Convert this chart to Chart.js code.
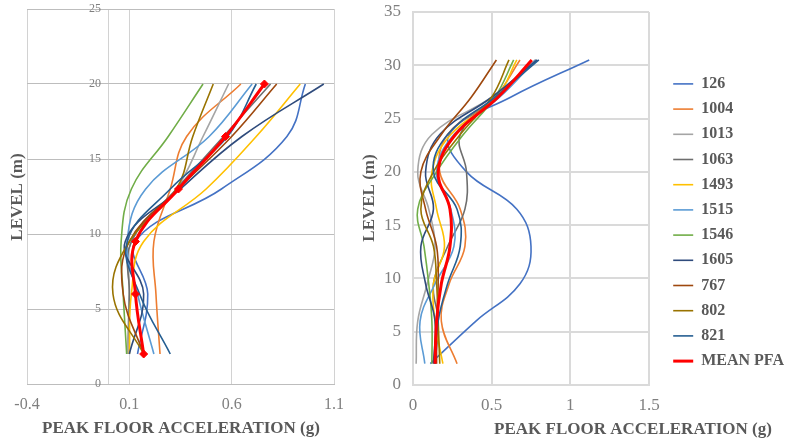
<!DOCTYPE html>
<html>
<head>
<meta charset="utf-8">
<script src="https://cdn.jsdelivr.net/npm/chart.js@4.4.1/dist/chart.umd.min.js"></script>
<style>
  html, body { margin: 0; padding: 0; background: #ffffff; overflow: hidden; width: 787px; height: 443px; }
  #wrap { position: relative; width: 787px; height: 443px; overflow: hidden; }
  canvas { position: absolute; top: 0; }
  #pfa20 { left: 0; }
  #pfa30 { left: 345px; }
</style>
</head>
<body>
<div id="wrap">
  <canvas id="pfa20" width="350" height="443"></canvas>
  <canvas id="pfa30" width="449" height="443"></canvas>
</div>
<script>
// Record names (the last entry is the mean profile)
const seriesNames = ['126', '1004', '1013', '1063', '1493', '1515', '1546', '1605', '767', '802', '821', 'MEAN PFA'];

// Floor levels (m) at which peak floor acceleration was recorded
const levels20 = [2, 6, 9.5, 13, 16.5, 20];
const levels30 = [2, 6, 9.5, 13, 16.5, 20, 23.5, 27, 30.5];

// Peak floor acceleration (g), 20 m building
const pfa20_126  = [0.14, 0.19, 0.13, 0.55, 0.87, 0.96];
const pfa20_1004 = [0.25, 0.23, 0.22, 0.30, 0.38, 0.645];
const pfa20_1013 = [0.09, 0.10, 0.11, 0.33, 0.46, 0.585];
const pfa20_1063 = [0.10, 0.10, 0.11, 0.33, 0.56, 0.79];
const pfa20_1493 = [0.10, 0.11, 0.17, 0.475, 0.72, 0.935];
const pfa20_1515 = [0.22, 0.14, 0.09, 0.18, 0.49, 0.70];
const pfa20_1546 = [0.087, 0.07, 0.06, 0.11, 0.29, 0.46];
const pfa20_1605 = [0.10, 0.17, 0.08, 0.35, 0.65, 1.05];
const pfa20_767  = [0.17, 0.07, 0.10, 0.34, 0.60, 0.82];
const pfa20_802  = [0.17, 0.02, 0.10, 0.33, 0.41, 0.51];
const pfa20_821  = [0.30, 0.15, 0.09, 0.30, 0.58, 0.72];
const pfa20_mean = [0.17, 0.13, 0.13, 0.34, 0.57, 0.76];

// Peak floor acceleration (g), 30 m building
const pfa30_126  = [0.11, 0.40, 0.68, 0.75, 0.66, 0.34, 0.23, 0.62, 1.12];
const pfa30_1004 = [0.28, 0.18, 0.23, 0.33, 0.30, 0.17, 0.22, 0.52, 0.68];
const pfa30_1013 = [0.02, 0.03, 0.09, 0.14, 0.10, 0.03, 0.12, 0.50, 0.78];
const pfa30_1063 = [0.14, 0.16, 0.13, 0.22, 0.33, 0.34, 0.30, 0.52, 0.78];
const pfa30_1493 = [0.19, 0.14, 0.13, 0.20, 0.15, 0.12, 0.24, 0.53, 0.66];
const pfa30_1515 = [0.075, 0.045, 0.14, 0.26, 0.24, 0.15, 0.26, 0.55, 0.78];
const pfa30_1546 = [0.12, 0.12, 0.10, 0.07, 0.03, 0.15, 0.32, 0.52, 0.64];
const pfa30_1605 = [0.13, 0.14, 0.08, 0.05, 0.13, 0.08, 0.17, 0.50, 0.79];
const pfa30_767  = [0.15, 0.15, 0.16, 0.15, 0.08, 0.05, 0.18, 0.37, 0.53];
const pfa30_802  = [0.17, 0.16, 0.15, 0.13, 0.05, 0.13, 0.30, 0.50, 0.61];
const pfa30_821  = [0.14, 0.16, 0.22, 0.30, 0.28, 0.13, 0.22, 0.52, 0.80];
const pfa30_mean = [0.14, 0.15, 0.18, 0.235, 0.235, 0.16, 0.27, 0.54, 0.755];

// Axis ticks and their labels
const xTicks20 = [-0.4, 0, 0.1, 0.6, 1.1];
const xTickLabels20 = ['-0.4', '', '0.1', '0.6', '1.1'];
const yTicks20 = [0, 5, 10, 15, 20, 25];
const xTicks30 = [0, 0.5, 1, 1.5];
const xTickLabels30 = ['0', '0.5', '1', '1.5'];
const yTicks30 = [0, 5, 10, 15, 20, 25, 30, 35];

const pfa20 = [pfa20_126, pfa20_1004, pfa20_1013, pfa20_1063, pfa20_1493, pfa20_1515,
               pfa20_1546, pfa20_1605, pfa20_767, pfa20_802, pfa20_821, pfa20_mean];
const pfa30 = [pfa30_126, pfa30_1004, pfa30_1013, pfa30_1063, pfa30_1493, pfa30_1515,
               pfa30_1546, pfa30_1605, pfa30_767, pfa30_802, pfa30_821, pfa30_mean];

const seriesColors = ['#4472C4', '#ED7D31', '#A5A5A5', '#6E6E6E', '#FFC000', '#5B9BD5',
                      '#70AD47', '#2F4B7C', '#9E480E', '#997300', '#255E91', '#FF0000'];

const serif = 'Liberation Serif';
const tickGrey = '#7f7f7f';
const titleGrey = '#595959';
const MEAN = seriesNames.length - 1;

function buildDatasets(levels, columns, markers) {
  return columns.map((xs, i) => {
    const w = i === MEAN ? 3 : 1.6;
    return {
      label: seriesNames[i],
      data: xs.map((x, k) => ({ x: x, y: levels[k] })),
      showLine: true,
      tension: 0.4,
      fill: false,
      borderColor: seriesColors[i],
      backgroundColor: seriesColors[i],
      borderWidth: w,
      pointStyle: 'rectRot',
      pointRadius: (markers && i === MEAN) ? 4 : 0,
      pointBorderWidth: markers ? 1 : w,
      // later records are painted above earlier ones, mean on top
      order: columns.length - i
    };
  });
}

function fixedTicks(values) {
  return function (scale) { scale.ticks = values.map(v => ({ value: v })); };
}
function labelsFrom(labels) {
  return function (value, index) { return labels[index]; };
}
const fmt = v => String(+(+v).toFixed(2));

// Axis captions painted on top of each chart
const captionPlugin = {
  id: 'captions',
  afterDraw(chart, args, opts) {
    const ctx = chart.ctx;
    (opts.items || []).forEach(it => {
      ctx.save();
      ctx.font = 'bold 17px "' + serif + '"';
      ctx.fillStyle = titleGrey;
      ctx.textAlign = 'center';
      ctx.textBaseline = 'middle';
      ctx.translate(it.x, it.y);
      ctx.rotate(it.rotation || 0);
      ctx.fillText(it.text, 0, 0);
      ctx.restore();
    });
  }
};

const clear = 'rgba(0,0,0,0)';

// ---- 20 m building ----
new Chart(document.getElementById('pfa20'), {
  type: 'scatter',
  data: { datasets: buildDatasets(levels20, pfa20, true) },
  plugins: [captionPlugin],
  options: {
    responsive: false,
    animation: false,
    devicePixelRatio: 1,
    events: [],
    layout: { padding: { left: 27, right: 16, top: 9, bottom: 10 } },
    plugins: {
      legend: { display: false },
      tooltip: { enabled: false },
      captions: {
        items: [
          { text: 'LEVEL (m)', x: 18, y: 197, rotation: -Math.PI / 2 },
          { text: 'PEAK FLOOR ACCELERATION (g)', x: 181, y: 429 }
        ]
      }
    },
    scales: {
      x: {
        type: 'linear', min: -0.4, max: 1.1,
        afterBuildTicks: fixedTicks(xTicks20),
        afterFit: s => { s.height = 49; },
        grid: { color: '#d2d2d2', lineWidth: 1, drawTicks: true, tickLength: 11, tickColor: clear },
        border: { display: true, color: '#bdbdbd', width: 1 },
        ticks: { padding: 0, color: tickGrey, font: { family: serif, size: 16 },
                 callback: labelsFrom(xTickLabels20), maxRotation: 0, autoSkip: false }
      },
      y: {
        type: 'linear', min: 0, max: 25,
        // labels sit just left of the x = 0 line
        position: { x: -0.038 },
        afterBuildTicks: fixedTicks(yTicks20),
        grid: { color: '#bdbdbd', lineWidth: 1, drawTicks: false },
        border: { display: false },
        ticks: { padding: 0, color: tickGrey, font: { family: serif, size: 12 }, callback: fmt }
      }
    }
  }
});

// ---- 30 m building ----
const RIGHT_W = 449;
const PLOT_RIGHT = 304;
new Chart(document.getElementById('pfa30'), {
  type: 'scatter',
  data: { datasets: buildDatasets(levels30, pfa30, false) },
  plugins: [captionPlugin],
  options: {
    responsive: false,
    animation: false,
    devicePixelRatio: 1,
    events: [],
    layout: { padding: { left: 28, right: 0, top: 12, bottom: 10 } },
    plugins: {
      tooltip: { enabled: false },
      legend: {
        display: true,
        position: 'right',
        align: 'center',
        maxWidth: 200,
        labels: {
          usePointStyle: true,
          pointStyle: 'line',
          pointStyleWidth: 20,
          padding: 9.2,
          color: titleGrey,
          font: { family: serif, size: 16, weight: 'bold' },
          sort: (a, b) => a.datasetIndex - b.datasetIndex
        }
      },
      captions: {
        items: [
          { text: 'LEVEL (m)', x: 25, y: 198, rotation: -Math.PI / 2 },
          { text: 'PEAK FLOOR ACCELERATION (g)', x: 288, y: 430 }
        ]
      }
    },
    scales: {
      x: {
        type: 'linear', min: 0, max: 1.5,
        afterBuildTicks: fixedTicks(xTicks30),
        afterFit: s => { s.height = 48; },
        grid: { color: '#dadada', lineWidth: 2, drawTicks: true, tickLength: 10, tickColor: clear },
        border: { display: true, color: '#dadada', width: 2 },
        ticks: { padding: 0, color: tickGrey, font: { family: serif, size: 17 },
                 callback: labelsFrom(xTickLabels30), maxRotation: 0, autoSkip: false }
      },
      y: {
        type: 'linear', min: 0, max: 35,
        position: 'left',
        afterBuildTicks: fixedTicks(yTicks30),
        afterFit: s => { s.width = 40; },
        grid: { color: '#dadada', lineWidth: 2, drawTicks: true, tickLength: 12, tickColor: clear },
        border: { display: true, color: '#dadada', width: 2 },
        ticks: { padding: 0, color: tickGrey, font: { family: serif, size: 17 }, callback: fmt }
      },
      gap: {
        type: 'linear', position: 'right', display: true,
        grid: { display: false }, border: { display: false }, ticks: { display: false },
        afterFit: s => {
          const lw = (s.chart.legend && s.chart.legend.width) || 131;
          s.width = Math.max(0, RIGHT_W - PLOT_RIGHT - lw);
        }
      }
    }
  }
});
</script>
</body>
</html>
